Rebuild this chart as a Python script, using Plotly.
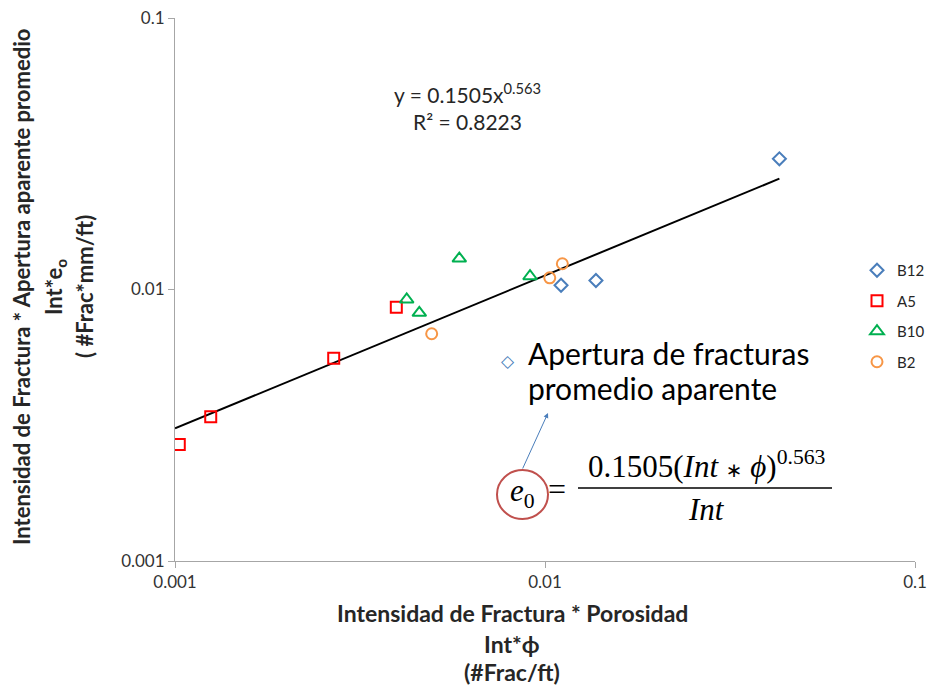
import plotly.graph_objects as go
import numpy as np

# ---- data ----
b12_x = [0.0430, 0.01105, 0.01373]
b12_y = [0.0303, 0.01037, 0.01079]
a5_x = [0.001027, 0.001249, 0.002685, 0.003964]
a5_y = [0.002686, 0.003398, 0.005585, 0.00860]
b10_x = [0.004229, 0.004574, 0.005867, 0.00911]
b10_y = [0.009187, 0.008206, 0.01300, 0.01119]
b2_x = [0.00494, 0.0103, 0.01114]
b2_y = [0.00687, 0.01104, 0.01244]
fit_a = 0.1505
fit_b = 0.563
fit_r2 = 0.8223

all_x = b12_x + a5_x + b10_x + b2_x
fit_x = np.array([0.001, max(all_x)])
fit_y = fit_a * fit_x ** fit_b

W, H = 929, 687
X0, X1, Y0, Y1 = 175, 915, 18, 561
def px(x):
    return (x - X0) / (X1 - X0)
def py(y):
    return (Y1 - y) / (Y1 - Y0)

FONT = "Lato"
fig = go.Figure()
fig.add_trace(go.Scatter(x=fit_x, y=fit_y, mode="lines", line=dict(color="black", width=2),
                         showlegend=False, hoverinfo="skip"))
series = [
    ("B12", b12_x, b12_y, "diamond-open", "#4a7ebb", 10),
    ("A5", a5_x, a5_y, "square-open", "#ff0000", 11),
    ("B10", b10_x, b10_y, "triangle-up-open", "#00b050", 12),
    ("B2", b2_x, b2_y, "circle-open", "#f79646", 11),
]
for name, xs, ys, sym, col, sz in series:
    fig.add_trace(go.Scatter(x=xs, y=ys, mode="markers", name=name, legendgroup=name,
                             marker=dict(symbol=sym, color=col, size=sz, line=dict(width=2, color=col))))

axis_common = dict(type="log", showgrid=False, zeroline=False, showline=True, linecolor="#a6a6a6",
                   linewidth=1, ticks="outside", ticklen=6, tickcolor="#a6a6a6",
                   tickfont=dict(family=FONT, size=17, color="#333333"),
                   tickvals=[0.001, 0.01, 0.1], ticktext=["0.001", "0.01", "0.1"])
fig.update_xaxes(range=[-3, -1], **axis_common)
fig.update_yaxes(range=[-3, -1], **axis_common)

ann = []
def text(x, y, s, size, bold=False, color="#262626", family=FONT, angle=0, xanchor="center"):
    ann.append(dict(x=px(x), y=py(y), xref="paper", yref="paper", text=("<b>%s</b>" % s) if bold else s,
                    showarrow=False, textangle=angle, xanchor=xanchor, yanchor="middle",
                    font=dict(family=family, size=size, color=color)))

# y-axis title
text(21, 287, "Intensidad de Fractura * Apertura aparente promedio", 22, bold=True, angle=-90)
text(55, 287, "Int*e<sub>o</sub>", 22, bold=True, angle=-90)
text(84, 287, "( #Frac*mm/ft)", 22, bold=True, angle=-90)
# x-axis title
text(512, 613, "Intensidad de Fractura * Porosidad", 23, bold=True)
text(512, 644, "Int*ϕ", 23, bold=True)
text(512, 672, "(#Frac/ft)", 23, bold=True)
# equation
text(467, 93, "y = %.4fx<sup>%.3f</sup>" % (fit_a, fit_b), 21)
text(467, 122, "R² = %.4f" % fit_r2, 21)
# callout
text(508, 361, "◇", 17, bold=True, color="#4a7ebb", family="DejaVu Sans")
text(526, 353, "Apertura de fracturas", 30, color="black", xanchor="left")
text(526, 388, "promedio aparente", 30, color="black", xanchor="left")
SERIF = "Liberation Serif"
ast = '<span style="font-family:\'DejaVu Sans\';font-size:20px">∗</span>'
text(522, 493, "<i>e</i><sub>0</sub>", 31, color="black", family=SERIF)
text(557, 489, "=", 32, color="black", family=SERIF)
text(706, 464, "0.1505(<i>Int</i> %s <i>ϕ</i>)<sup>0.563</sup>" % ast, 31, color="black", family=SERIF)
text(706, 509, "<i>Int</i>", 31, color="black", family=SERIF)
# arrow
ann.append(dict(x=px(548), y=py(413), xref="paper", yref="paper", ax=522 - 548, ay=470 - 413,
                axref="pixel", ayref="pixel", text="", showarrow=True, arrowhead=2, arrowsize=1,
                arrowwidth=1, arrowcolor="#4a7ebb"))

shapes = [
    dict(type="line", xref="paper", yref="paper", x0=px(578), x1=px(832), y0=py(488), y1=py(488),
         line=dict(color="black", width=1.5)),
    dict(type="circle", xref="paper", yref="paper", x0=px(497), x1=px(548), y0=py(470), y1=py(519),
         line=dict(color="#c0504d", width=2)),
]

fig.update_layout(
    width=W, height=H, margin=dict(l=X0, r=W - X1, t=Y0, b=H - Y1, autoexpand=False),
    paper_bgcolor="white", plot_bgcolor="white",
    annotations=ann, shapes=shapes,
    legend=dict(x=px(857), y=py(254), xanchor="left", yanchor="top", traceorder="grouped",
                tracegroupgap=8, font=dict(family=FONT, size=15, color="#262626"),
                itemwidth=30, bgcolor="rgba(0,0,0,0)"),
)
fig.write_html("out.html")
